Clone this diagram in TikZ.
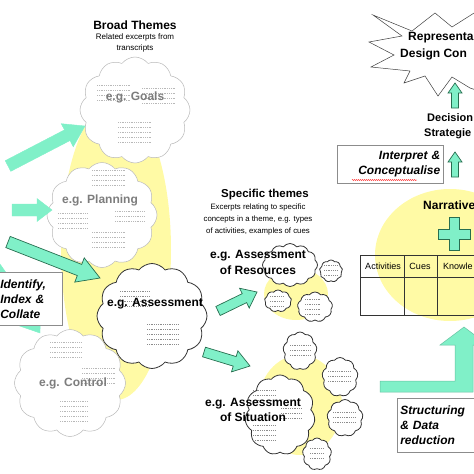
\documentclass[tikz,border=0pt]{standalone}
\usepackage{fontspec}
\setmainfont{Liberation Sans}
\usetikzlibrary{shapes.symbols,calc,decorations.pathmorphing}

\definecolor{mint}{RGB}{128,240,200}
\definecolor{mintdark}{RGB}{40,110,80}
\definecolor{paleyellow}{RGB}{255,250,165}
\definecolor{cloudgray}{RGB}{185,185,185}
\definecolor{textgray}{RGB}{125,125,125}

\tikzset{
  theme cloud/.style={cloud, cloud puffs=12, cloud puff arc=105, cloud ignores aspect,
    draw=cloudgray, fill=white, line width=0.5pt, inner sep=0pt},
  focus cloud/.style={theme cloud, draw=black!80, line width=0.8pt},
  bit cloud/.style={focus cloud, cloud puffs=9},
  heading/.style={font=\fontsize{12}{14}\selectfont\bfseries},
  blurb/.style={font=\fontsize{8}{11.5}\selectfont, align=center},
  graylabel/.style={font=\fontsize{12}{15}\selectfont\bfseries, text=textgray},
  darklabel/.style={font=\fontsize{12}{16}\selectfont\bfseries, align=center},
  notebox/.style={draw=black!45, fill=white, line width=0.6pt, inner sep=3pt,
    font=\fontsize{12}{15}\selectfont\bfseries\itshape},
  lightarrow/.style={fill=mint, draw=mint},
  darkarrow/.style={fill=mint, draw=mintdark, line width=0.7pt},
}

\newcommand{\excerpt}[5][textgray!55]{%
  \foreach \k in {1,...,#5}
    \draw[#1, dash pattern=on 1pt off 0.8pt, line width=0.4pt] (#2,#3+5*\k) -- ++(#4,0);}

\newcommand{\fatarrow}[6][]{%
  \coordinate (hb) at ($(#3)!#6!(#2)$);
  \filldraw[#1] ($(#2)!#4!90:(#3)$) -- ($(hb)!#4!90:(#3)$) -- ($(hb)!#5!90:(#3)$) -- (#3)
    -- ($(hb)!#5!-90:(#3)$) -- ($(hb)!#4!-90:(#3)$) -- ($(#2)!#4!-90:(#3)$) -- cycle;}

\begin{document}
\begin{tikzpicture}[x=1pt,y=-1pt]
\useasboundingbox (0,0) rectangle (474,474);
\clip (0,0) rectangle (474,474);

\fill[paleyellow] (116,250) ellipse [x radius=55pt, y radius=150pt];
\fill[paleyellow] (296,294) ellipse [x radius=32pt, y radius=26pt];
\fill[paleyellow] (300,405) ellipse [x radius=42pt, y radius=50pt];
\fill[paleyellow] (450,255) ellipse [x radius=75pt, y radius=66pt];

\node[heading] (broad) at (135,25) {Broad Themes};
\node[blurb] (broadsub) at (135,43) {Related excerpts from\\transcripts};

\coordinate (a4t) at (-10,262);
\coordinate (a4h) at (40,333);
\fatarrow[lightarrow]{a4t}{a4h}{7pt}{13pt}{18pt}
\node[notebox, anchor=north west, text width=59pt, minimum height=53pt, align=left] (identify) at (-3,272) {Identify,\\Index \&\\Collate};

\node[theme cloud, minimum width=110pt, minimum height=106pt] (goals) at (135,110) {};
\node[theme cloud, minimum width=110pt, minimum height=105pt] (planning) at (102,215) {};
\node[focus cloud, minimum width=110pt, minimum height=105pt] (assessment) at (152,316) {};
\node[theme cloud, minimum width=111pt, minimum height=107pt] (control) at (70,383) {};

\excerpt{97}{80}{33}{4}
\excerpt{142}{83}{33}{4}
\excerpt{118}{117}{33}{5}
\excerpt{92}{165}{33}{4}
\excerpt{58}{208}{30}{4}
\excerpt{115}{206}{30}{3}
\excerpt{92}{227}{33}{4}
\excerpt[black!45]{120}{286}{30}{4}
\excerpt[black!45]{147}{319}{32}{5}
\excerpt{50}{337}{32}{4}
\excerpt{82}{363}{33}{4}
\excerpt{60}{396}{28}{5}

\node[graylabel] (goalstext) at (135,97) {e.g. Goals};
\node[graylabel] (planningtext) at (100,200) {e.g. Planning};
\node[darklabel] (assessmenttext) at (155,304) {e.g. Assessment};
\node[graylabel] (controltext) at (73,383) {e.g. Control};

\coordinate (a1t) at (8,166);
\coordinate (a1h) at (85,126);
\coordinate (a2t) at (12,210);
\coordinate (a2h) at (52,210);
\coordinate (a3t) at (8,242);
\coordinate (a3h) at (100,278);
\fatarrow[lightarrow]{a1t}{a1h}{6pt}{13pt}{20pt}
\fatarrow[lightarrow]{a2t}{a2h}{6pt}{11.5pt}{15pt}
\fatarrow[darkarrow]{a3t}{a3h}{6pt}{13pt}{22pt}

\node[heading, font=\fontsize{11.5}{14}\selectfont\bfseries] (specific) at (265,195) {Specific themes};
\node[blurb, font=\fontsize{7.8}{12}\selectfont] (specificsub) at (258,219) {Excerpts relating to specific\\concepts in a theme, e.g. types\\of activities, examples of cues};

\node[focus cloud, minimum width=55pt, minimum height=43pt] (res) at (290,265) {};
\node[bit cloud, minimum width=23pt, minimum height=22pt] (res1) at (331,271) {};
\node[bit cloud, minimum width=27pt, minimum height=22pt] (res2) at (278,301) {};
\node[bit cloud, minimum width=35pt, minimum height=30pt] (res3) at (315,307) {};
\excerpt[black!45]{324}{260}{14}{3}
\excerpt[black!45]{270}{291}{14}{3}
\excerpt[black!45]{305}{294}{16}{4}
\node[darklabel] (restext) at (258,262) {e.g. Assessment\\of Resources};

\node[bit cloud, minimum width=34pt, minimum height=38pt] (sit1) at (300,351) {};
\node[bit cloud, minimum width=36pt, minimum height=39pt] (sit2) at (340,377) {};
\node[bit cloud, minimum width=36pt, minimum height=37pt] (sit3) at (345,418) {};
\node[bit cloud, minimum width=29pt, minimum height=32pt] (sit4) at (317,454) {};
\node[focus cloud, cloud puffs=11, minimum width=70pt, minimum height=80pt] (sit) at (280,415) {};
\excerpt[black!45]{290}{340}{20}{3}
\excerpt[black!45]{328}{366}{22}{3}
\excerpt[black!45]{333}{407}{22}{3}
\excerpt[black!45]{310}{443}{13}{3}
\excerpt[black!45]{253}{385}{22}{3}
\excerpt[black!45]{253}{420}{22}{4}
\excerpt[black!45]{281}{403}{20}{3}
\node[darklabel, font=\fontsize{12}{15}\selectfont\bfseries] (sittext) at (253,410) {e.g. Assessment\\of Situation};

\coordinate (r1t) at (218,311);
\coordinate (r1h) at (257,292);
\coordinate (r2t) at (204,352);
\coordinate (r2h) at (250,366);
\fatarrow[darkarrow]{r1t}{r1h}{5pt}{11pt}{14pt}
\fatarrow[darkarrow]{r2t}{r2h}{5pt}{11pt}{16pt}

\filldraw[fill=white, draw=black!75, line width=0.5pt] (373,15) -- (412,31) -- (435,13) -- (452,27)
  -- (482,8) -- (482,92) -- (470,88) -- (452,77) -- (438,96) -- (425,76) -- (404,83)
  -- (410,71) -- (371,67) -- (394,55) -- (369,42) -- (402,36) -- cycle;
\node[heading, anchor=west, inner sep=0pt] (repr) at (408,38) {Representa};
\node[heading, anchor=west, inner sep=0pt] (design) at (400,54) {Design Con};

\coordinate (u1t) at (455,108);
\coordinate (u1h) at (455,83);
\coordinate (u2t) at (455,177);
\coordinate (u2h) at (455,152);
\fatarrow[darkarrow]{u1t}{u1h}{3.5pt}{7pt}{10pt}
\fatarrow[darkarrow]{u2t}{u2h}{3.5pt}{7pt}{10pt}

\node[heading, font=\fontsize{11}{13}\selectfont\bfseries, anchor=west, inner sep=0pt] (decision) at (427,118) {Decision};
\node[heading, font=\fontsize{11}{13}\selectfont\bfseries, anchor=west, inner sep=0pt] (strategy) at (424,134) {Strategie};

\node[notebox, anchor=north west, text width=100pt, minimum height=38pt, align=right] (interpret) at (337,145) {Interpret \&\\Conceptualise};
\draw[red, line width=0.4pt, decorate, decoration={snake, amplitude=0.5pt, segment length=2pt}] (352,180) -- (417,180);

\node[heading, anchor=west, inner sep=0pt] (narrative) at (423,205) {Narrative};
\filldraw[darkarrow] (449,217) -- (459,217) -- (459,229) -- (470,229) -- (470,239) -- (459,239)
  -- (459,250) -- (449,250) -- (449,239) -- (438,239) -- (438,229) -- (449,229) -- cycle;

\draw[black!80, line width=0.6pt] (360,255) rectangle (480,315);
\draw[black!80, line width=0.6pt] (360,277) -- (480,277);
\draw[black!80, line width=0.6pt] (404,255) -- (404,315);
\draw[black!80, line width=0.6pt] (437,255) -- (437,315);
\node[font=\fontsize{9}{11}\selectfont] (activities) at (383,266) {Activities};
\node[font=\fontsize{9}{11}\selectfont] (cues) at (420,266) {Cues};
\node[font=\fontsize{9}{11}\selectfont, anchor=west, inner sep=0pt] (knowledge) at (443,266) {Knowle};

\filldraw[fill=mint, draw=mint!80!black, line width=0.5pt] (380,381) -- (455,381) -- (455,345) -- (440,345)
  -- (464,327) -- (488,345) -- (473,345) -- (473,392) -- (380,392) -- cycle;

\node[notebox, anchor=north west, text width=100pt, minimum height=54pt, align=left] (structuring) at (397,398) {Structuring\\\& Data\\reduction};
\end{tikzpicture}
\end{document}
